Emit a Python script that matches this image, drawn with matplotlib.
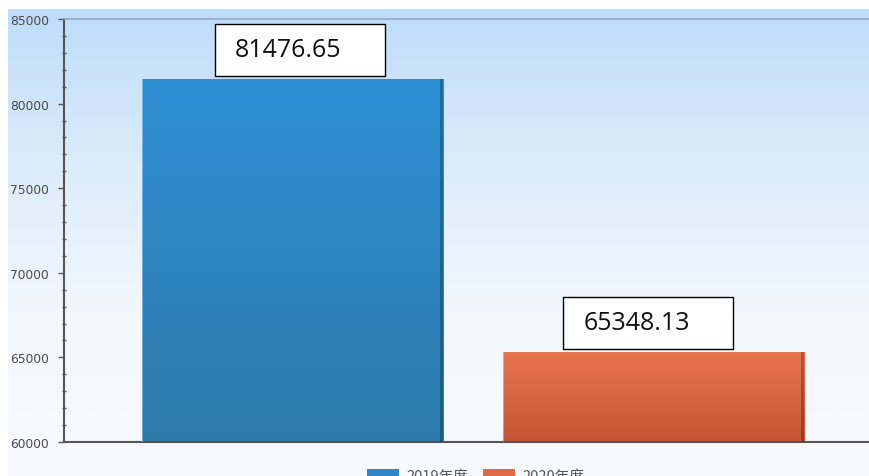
import numpy as np
import matplotlib
matplotlib.use("Agg")
import matplotlib.pyplot as plt
from matplotlib.colors import LinearSegmentedColormap
from matplotlib.patches import Rectangle, Patch
import matplotlib.transforms as mtransforms

plt.rcParams['font.family'] = ['DejaVu Sans', 'Noto Sans CJK SC']

# ---- data ----
categories = ["2019年度", "2020年度"]
values = [81476.65, 65348.13]
value_labels = ["81476.65", "65348.13"]
yticks = [60000, 65000, 70000, 75000, 80000, 85000]

bar_top_colors = ["#2f8fd5", "#e97550"]
bar_bottom_colors = ["#2d7aaa", "#c55532"]
legend_colors = ["#2f86c8", "#e06a45"]

W, H = 870, 477
fig = plt.figure(figsize=(W / 100, H / 100), dpi=100)
fig.patch.set_facecolor("#ffffff")

# background gradient panel
bg = fig.add_axes([8 / W, 0, 1 - 8 / W, 1 - 10 / H])
bg.set_axis_off()
grad = np.linspace(0, 1, 256).reshape(-1, 1)
bg_cmap = LinearSegmentedColormap.from_list("bg", ["#bddcfa", "#dcecfb", "#f3f8fd", "#f8fafd"])
bg.imshow(grad, aspect="auto", cmap=bg_cmap, extent=[0, 1, 0, 1], origin="upper")
bg.set_xlim(0, 1)
bg.set_ylim(0, 1)

# main axes: left 64px, top 20px, bottom 443px
ax = fig.add_axes([64 / W, (H - 443) / H, (W - 64) / W, (443 - 20) / H])
ax.set_facecolor("none")

x = np.arange(len(values))
width = 0.834
ax.set_xlim(-0.633, 1.6)
ax.set_ylim(yticks[0], yticks[-1])

bars = ax.bar(x, [v - yticks[0] for v in values], bottom=yticks[0], width=width,
              color="none", edgecolor="none", zorder=2)
for b, ct, cb in zip(bars, bar_top_colors, bar_bottom_colors):
    cm = LinearSegmentedColormap.from_list("b", [ct, cb])
    x0, y0 = b.get_x(), b.get_y()
    w, h = b.get_width(), b.get_height()
    im = ax.imshow(grad, aspect="auto", cmap=cm, extent=[x0, x0 + w, y0, y0 + h],
                   origin="upper", zorder=2)
    im.set_clip_path(b)
    ax.add_patch(Rectangle((x0 + w - 0.009, y0), 0.009, h, color="black", alpha=0.25,
                           lw=0, zorder=3))
    ax.add_patch(Rectangle((x0, y0), 0.004, h, color="white", alpha=0.35,
                           lw=0, zorder=3))
ax.set_xlim(-0.633, 1.6)
ax.set_ylim(yticks[0], yticks[-1])

# value boxes
box_dx = [-0.215, -0.25]
box_w = 0.471
for xi, v, lab, dx in zip(x, values, value_labels, box_dx):
    tr = mtransforms.offset_copy(ax.transData, fig=fig, x=0, y=3, units="dots")
    r = Rectangle((xi + dx, v), box_w, 0, transform=tr, facecolor="white",
                  edgecolor="black", lw=1.0, zorder=5)
    ax.add_patch(r)
    y_top_px = ax.transData.transform((0, v))[1] + 3 + 52
    v_top = ax.transData.inverted().transform((0, y_top_px - 3))[1]
    r.set_height(v_top - v)
    r.set_clip_on(False)
    ax.annotate(lab, xy=(xi + dx, v), xytext=(20, 3 + 26), textcoords="offset pixels",
                ha="left", va="center", fontsize=18, family="Open Sans",
                color="#111111", zorder=6, annotation_clip=False)

# axes styling
ax.set_xticks([])
ax.set_yticks(yticks)
ax.set_yticklabels([f"{t}" for t in yticks])
ax.set_yticks(np.arange(yticks[0], yticks[-1] + 1, 1000), minor=True)
ax.tick_params(axis="y", which="major", length=4, width=1, color="#555555",
               labelsize=8.8, labelcolor="#4a4a4a", pad=7, direction="out")
ax.tick_params(axis="y", which="minor", length=3, width=1, color="#555555", direction="inout")
ax.spines["left"].set_color("#555555")
ax.spines["left"].set_linewidth(1.5)
ax.spines["bottom"].set_color("#555555")
ax.spines["bottom"].set_linewidth(1.5)
ax.spines["top"].set_color("#94aac4")
ax.spines["top"].set_linewidth(1.2)
ax.spines["right"].set_visible(False)

# legend (partially cropped at bottom, as in the reference)
handles = [Patch(facecolor=c, edgecolor="none") for c in legend_colors]
leg = fig.legend(handles, categories, loc="upper left", bbox_to_anchor=(367 / W, 7 / H),
                 ncol=2, frameon=False, handlelength=2.2, handleheight=0.9,
                 handletextpad=0.5, columnspacing=1.0, borderpad=0, borderaxespad=0,
                 prop={"family": ["Noto Sans CJK SC", "DejaVu Sans"], "size": 10.5})
for t in leg.get_texts():
    t.set_color("#555555")

fig.savefig("out.png", dpi=100)
